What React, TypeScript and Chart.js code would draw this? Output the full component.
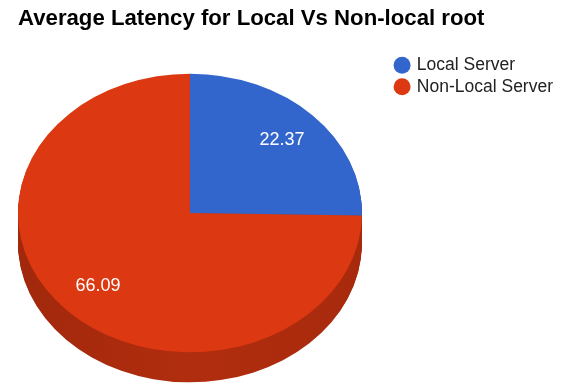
import React, { useEffect, useRef } from "react";
import { Chart, registerables } from "chart.js";

Chart.register(...registerables);

const TITLE = "Average Latency for Local Vs Non-local root";
const CATEGORIES = ["Local Server", "Non-Local Server"];
const VALUES = [22.37, 66.09];
const TOP_COLORS = ["#3366CC", "#DC3912"];
const SIDE_COLORS = ["#2A55A8", "#B12D0F"];

const FONT = "'Liberation Sans', Arial, Helvetica, sans-serif";
const Y_SCALE = 0.81;
const DEPTH = 30;
const LABEL_FRACTION = 0.75;

function transformFor(chart: any) {
  const meta = chart.getDatasetMeta(0);
  const arc: any = meta.data[0];
  const R = arc.outerRadius;
  const cx = arc.x;
  const cy = arc.y;
  const tx = chart.chartArea.left + R;
  const ty = cy + 1;
  return { R, cx, cy, tx, ty };
}

const pie3d = {
  id: "pie3d",
  beforeDatasetsDraw(chart: any) {
    const ctx = chart.ctx;
    const meta = chart.getDatasetMeta(0);
    const { cx, cy, tx, ty } = transformFor(chart);
    meta.data.forEach((arc: any, i: number) => {
      const p = arc.getProps(["startAngle", "endAngle", "outerRadius"], true);
      const grad = ctx.createLinearGradient(tx - p.outerRadius, 0, tx + p.outerRadius, 0);
      grad.addColorStop(0, i === 1 ? "#A1280C" : SIDE_COLORS[i]);
      grad.addColorStop(0.5, SIDE_COLORS[i]);
      grad.addColorStop(1, i === 1 ? "#A82A0D" : SIDE_COLORS[i]);
      for (let d = DEPTH; d >= 1; d--) {
        ctx.save();
        ctx.translate(tx, ty + d);
        ctx.scale(1, Y_SCALE);
        ctx.translate(-cx, -cy);
        ctx.beginPath();
        ctx.moveTo(cx, cy);
        ctx.arc(cx, cy, p.outerRadius, p.startAngle, p.endAngle);
        ctx.closePath();
        ctx.restore();
        ctx.fillStyle = grad;
        ctx.fill();
      }
    });
    ctx.save();
    ctx.translate(tx, ty);
    ctx.scale(1, Y_SCALE);
    ctx.translate(-cx, -cy);
  },
  afterDatasetsDraw(chart: any) {
    const ctx = chart.ctx;
    ctx.restore();
    const meta = chart.getDatasetMeta(0);
    const { tx, ty } = transformFor(chart);
    ctx.save();
    ctx.fillStyle = "#FFFFFF";
    ctx.font = `18px ${FONT}`;
    ctx.textAlign = "center";
    ctx.textBaseline = "middle";
    meta.data.forEach((arc: any, i: number) => {
      const p = arc.getProps(["startAngle", "endAngle", "outerRadius"], true);
      const mid = (p.startAngle + p.endAngle) / 2;
      const r = p.outerRadius * LABEL_FRACTION;
      const x = tx + Math.cos(mid) * r;
      const y = ty + Math.sin(mid) * r * Y_SCALE;
      ctx.fillText(VALUES[i].toFixed(2), x, y);
    });
    ctx.restore();
  },
};

export default function App() {
  const ref = useRef<HTMLCanvasElement>(null);
  useEffect(() => {
    if (!ref.current) return;
    const chart = new Chart(ref.current, {
      type: "pie",
      data: {
        labels: CATEGORIES,
        datasets: [
          {
            data: VALUES,
            backgroundColor: TOP_COLORS,
            borderWidth: 0,
          },
        ],
      },
      options: {
        animation: false,
        responsive: false,
        maintainAspectRatio: false,
        layout: { padding: { left: 18, right: 0, top: 0, bottom: 0 } },
        plugins: {
          title: {
            display: true,
            text: TITLE,
            align: "start",
            color: "#000000",
            font: { family: FONT, size: 22.2, weight: "bold" },
            padding: { top: 6, bottom: 7.4 },
          },
          legend: {
            position: "right",
            align: "start",
            fullSize: false,
            title: { display: true, text: "", font: { size: 10, lineHeight: 1.25 }, padding: 0 },
            labels: {
              usePointStyle: true,
              pointStyle: "circle",
              boxWidth: 12,
              boxHeight: 12,
              padding: 4,
              color: "#222222",
              font: { family: FONT, size: 17.5 },
            },
          },
          tooltip: { enabled: false },
        },
      },
      plugins: [pie3d],
    });
    return () => chart.destroy();
  }, []);
  return (
    <div style={{ position: "fixed", left: 0, top: 0, width: 563, height: 384, background: "#fff" }}>
      <canvas ref={ref} width={563} height={384} style={{ width: 563, height: 384 }} />
    </div>
  );
}
